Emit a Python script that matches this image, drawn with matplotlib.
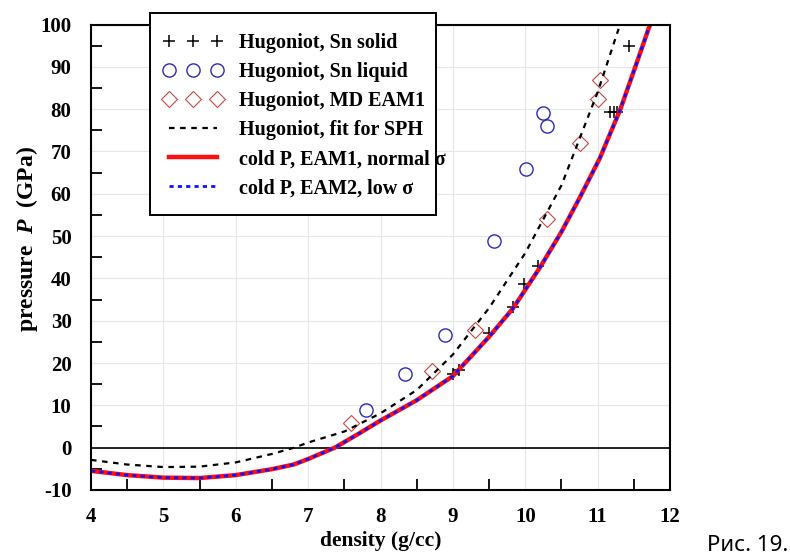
import matplotlib
matplotlib.use("Agg")
import matplotlib.pyplot as plt
from matplotlib.patches import Rectangle
from matplotlib.ticker import MultipleLocator

# Hugoniot experimental data
rho_solid = [9.0, 9.08, 9.50, 9.83, 9.98, 10.18, 11.17, 11.22, 11.27, 11.44]
p_solid = [17.4, 18.3, 27.0, 33.3, 38.7, 42.9, 79.3, 79.3, 79.3, 94.9]

rho_liquid = [7.80, 8.34, 8.89, 9.57, 10.01, 10.24, 10.30]
p_liquid = [8.9, 17.3, 26.6, 48.9, 65.8, 79.1, 76.0]

rho_md = [7.59, 8.71, 9.30, 10.30, 10.75, 11.01, 11.03]
p_md = [5.7, 18.2, 27.8, 54.0, 72.1, 82.4, 86.9]

# fit for SPH
rho_fit = [4.0, 4.5, 5.0, 5.5, 6.0, 6.5, 6.81, 7.0, 7.5, 8.0, 8.5, 9.0, 9.5,
           10.0, 10.5, 11.0, 11.29]
p_fit = [-2.9, -4.0, -4.6, -4.5, -3.5, -1.5, 0.0, 1.2, 3.8, 8.1, 13.6, 22.0,
         33.0, 46.0, 62.0, 84.0, 99.0]

# cold pressure curves
rho_cold = [4.0, 4.5, 5.0, 5.5, 6.0, 6.5, 6.8, 7.0, 7.37, 7.7, 8.0, 8.5, 9.0,
            9.5, 9.83, 10.2, 10.5, 10.75, 11.03, 11.31, 11.5, 11.72]
p_cold = [-5.5, -6.5, -7.1, -7.2, -6.5, -5.1, -4.0, -2.7, 0.0, 3.3, 6.4, 11.2,
          16.9, 26.2, 32.9, 42.5, 51.0, 59.0, 68.4, 79.8, 89.0, 99.8]

serif = "Liberation Serif"
plt.rcParams["axes.unicode_minus"] = False
plt.rcParams["mathtext.fontset"] = "custom"
plt.rcParams["mathtext.it"] = "Liberation Serif:bold:italic"
plt.rcParams["mathtext.rm"] = "Liberation Serif:bold"

fig = plt.figure(figsize=(7.9, 5.59), dpi=100)
ax = fig.add_axes([0.1152, 0.1236, 0.7329, 0.8324])

ax.grid(True, color="#e6e6e6", linewidth=0.8)
ax.set_axisbelow(True)
ax.axhline(0, color="black", linewidth=1.2)

l1, = ax.plot(rho_solid, p_solid, "+", color="black", markersize=9,
              markeredgewidth=1.1, label="Hugoniot, Sn solid")
l2, = ax.plot(rho_liquid, p_liquid, "o", color="#2a2ab8", markersize=9.5,
              markerfacecolor="none", markeredgewidth=1.0,
              label="Hugoniot, Sn liquid")
l3, = ax.plot(rho_md, p_md, "D", color="#c84848", markersize=8,
              markerfacecolor="none", markeredgewidth=0.8,
              label="Hugoniot, MD EAM1")
l4, = ax.plot(rho_fit, p_fit, color="black", linewidth=1.6,
              linestyle=(0, (2.5, 2.5)), label="Hugoniot, fit for SPH")
l5, = ax.plot(rho_cold, p_cold, color="#ff1010", linewidth=3.2,
              label="cold P, EAM1, normal σ")
l6, = ax.plot(rho_cold, p_cold, color="#1010ff", linewidth=2.0,
              linestyle=(0, (1.5, 1.5)), label="cold P, EAM2, low σ")

ax.set_xlim(4, 12)
ax.set_ylim(-10, 100)
ax.xaxis.set_major_locator(MultipleLocator(1))
ax.xaxis.set_minor_locator(MultipleLocator(0.5))
ax.yaxis.set_major_locator(MultipleLocator(10))
ax.yaxis.set_minor_locator(MultipleLocator(5))
ax.tick_params(which="both", direction="in", top=False, right=False)
ax.tick_params(which="major", length=0, pad=12)
ax.tick_params(axis="y", which="major", length=0, pad=14)
ax.tick_params(which="minor", length=8, width=1.3)
for sp in ax.spines.values():
    sp.set_linewidth(1.5)

for lab in ax.get_xticklabels() + ax.get_yticklabels():
    lab.set_fontfamily(serif)
    lab.set_fontweight("bold")
    lab.set_fontsize(15)

ax.set_xlabel("density (g/cc)", fontfamily=serif, fontweight="bold",
              fontsize=15.5, labelpad=3)
ax.set_ylabel(r"pressure  $P$  (GPa)", fontfamily=serif,
              fontweight="bold", fontsize=17)
ax.yaxis.set_label_coords(-0.088, 0.54)

# legend box (drawn separately, text slightly overflows like the original)
box = Rectangle((150 / 790, 1 - 215 / 559), 286 / 790, 202 / 559,
                transform=fig.transFigure, facecolor="white",
                edgecolor="black", linewidth=1.4, zorder=4)
fig.patches.append(box)

leg = fig.legend(handles=[l1, l2, l3, l4, l5, l6], loc="upper left",
                 bbox_to_anchor=(163 / 790, 1 - 33 / 559), numpoints=3,
                 frameon=False, handlelength=3.0, borderpad=0,
                 borderaxespad=0, labelspacing=0.45, handletextpad=0.75,
                 prop={"family": serif, "weight": "bold", "size": 14.5})
leg.set_zorder(5)

fig.text(0.998, 0.025, "Рис. 19.", ha="right", va="center",
         fontfamily="Noto Sans", fontsize=16)

fig.savefig("out.png", dpi=100)
